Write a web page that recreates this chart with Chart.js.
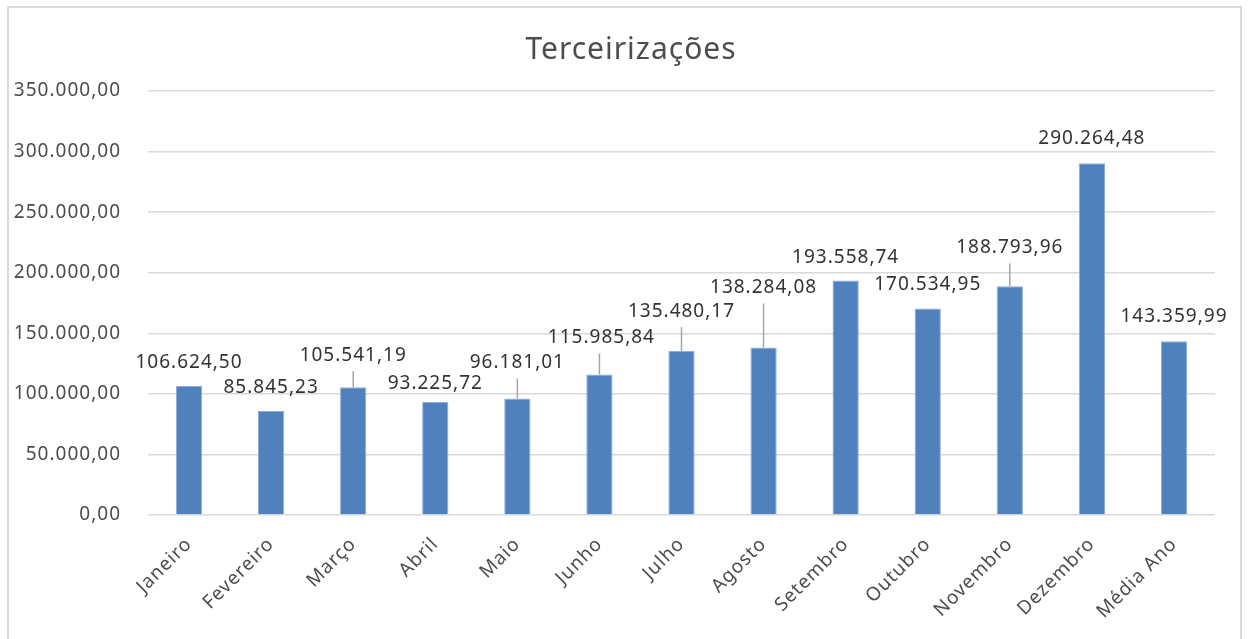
<!DOCTYPE html>
<html>
<head>
<meta charset="utf-8">
<script src="https://cdn.jsdelivr.net/npm/chart.js@4.4.1/dist/chart.umd.min.js"></script>
<style>
  html, body { margin: 0; padding: 0; background: #fff; overflow: hidden; }
  #wrap { position: absolute; left: 9px; top: 8px; width: 1244px; height: 631px; }
  #frame {
    position: absolute; left: 7px; top: 6px;
    width: 1235px; height: 650px;
    border: 2px solid #d9d9d9; box-sizing: border-box;
    pointer-events: none;
  }
</style>
</head>
<body>
<div id="wrap"><canvas id="chart"></canvas></div>
<div id="frame"></div>
<script>
// ── Data ──────────────────────────────────────────────────────────────────────
const months = [
  "Janeiro", "Fevereiro", "Março", "Abril", "Maio", "Junho", "Julho",
  "Agosto", "Setembro", "Outubro", "Novembro", "Dezembro", "Média Ano",
];
const values = [
  106624.50, 85845.23, 105541.19, 93225.72, 96181.01, 115985.84, 135480.17,
  138284.08, 193558.74, 170534.95, 188793.96, 290264.48, 143359.99,
];
const yTicks = [0, 50000, 100000, 150000, 200000, 250000, 300000, 350000];

// label layout (px above bar top, px sideways) – leader line when lifted far
const labelLift  = [25, 25, 33, 20, 37, 38, 41, 61, 25, 25, 40, 26, 26];
const labelShift = [0, 0, 0, 0, 0, 2, 0, 0, 0, 0, 0, 0, 0];

const FONT = "'Noto Sans', sans-serif";

// pt-BR number format: 106.624,50
function fmt(v) {
  const [int, dec] = Math.abs(v).toFixed(2).split(".");
  return int.replace(/\B(?=(\d{3})+(?!\d))/g, ".") + "," + dec;
}

// slightly wider spacing, closer to the Office rendering
const spacing = {
  id: "spacing",
  beforeUpdate(chart) { chart.ctx.letterSpacing = "1px"; },
  beforeDraw(chart) { chart.ctx.letterSpacing = "1px"; },
};

const barLabels = {
  id: "barLabels",
  afterDatasetsDraw(chart) {
    const ctx = chart.ctx;
    const meta = chart.getDatasetMeta(0);
    ctx.save();
    ctx.letterSpacing = "1px";
    ctx.font = "19px " + FONT;
    ctx.textAlign = "center";
    ctx.textBaseline = "alphabetic";
    meta.data.forEach((bar, i) => {
      const cy = bar.y - labelLift[i];
      const cx = bar.x + labelShift[i];
      if (labelLift[i] > 30) {
        ctx.strokeStyle = "#a6a6a6";
        ctx.lineWidth = 1.5;
        ctx.beginPath();
        ctx.moveTo(bar.x, cy + 17);
        ctx.lineTo(bar.x, bar.y);
        ctx.stroke();
      }
      ctx.fillStyle = "#333333";
      ctx.fillText(fmt(values[i]), cx, cy + 7);
    });
    ctx.restore();
  },
};

new Chart(document.getElementById("chart"), {
  type: "bar",
  data: {
    labels: months,
    datasets: [{
      label: "Terceirizações",
      data: values,
      backgroundColor: "#4f81bd",
      borderColor: "#8eacd6",
      borderWidth: 1,
      categoryPercentage: 1,
      barPercentage: 0.32,
    }],
  },
  options: {
    responsive: true,
    maintainAspectRatio: false,
    animation: false,
    plugins: {
      legend: { display: false },
      tooltip: { enabled: false },
      title: {
        display: true,
        text: "Terceirizações",
        color: "#4d4d4d",
        font: { family: FONT, size: 30, weight: "normal", lineHeight: 1.2 },
        padding: { top: 24, bottom: 23 },
      },
    },
    scales: {
      x: {
        grid: { display: false },
        border: { display: false },
        ticks: {
          color: "#4d4d4d",
          font: { family: FONT, size: 19 },
          minRotation: 45,
          maxRotation: 45,
          padding: 10,
          autoSkip: false,
        },
        afterFit(scale) {
          scale.height = 124;
          scale.paddingRight = 38;
        },
      },
      y: {
        min: 0,
        max: 350000,
        afterBuildTicks(scale) { scale.ticks = yTicks.map(v => ({ value: v })); },
        grid: { color: "#d9d9d9", lineWidth: 1.5, drawTicks: false },
        border: { display: false },
        ticks: {
          color: "#4d4d4d",
          font: { family: FONT, size: 19 },
          padding: 27,
          callback: v => fmt(v),
        },
        afterFit(scale) { scale.width = 139; },
      },
    },
  },
  plugins: [spacing, barLabels],
});
</script>
</body>
</html>
